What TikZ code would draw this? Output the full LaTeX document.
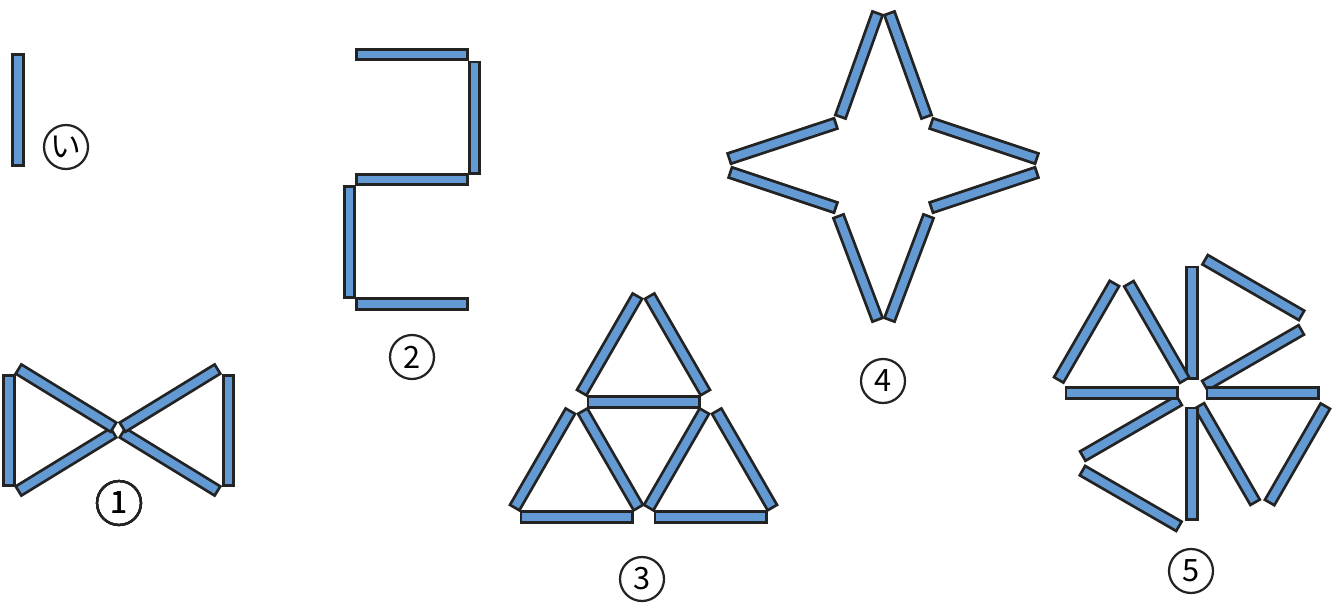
\documentclass[tikz,border=0pt]{standalone}
\usepackage{fontspec}
\newfontfamily\jpfont{Noto Sans CJK JP}
\usetikzlibrary{calc}
\definecolor{cStick}{RGB}{99,154,212}
\definecolor{cEdge}{RGB}{35,35,35}
\tikzset{
	stickedge/.style={line width=0.27cm, draw=cEdge},
	stickfill/.style={line width=0.158cm, draw=cStick, shorten <=0.056cm, shorten >=0.056cm},
	tag/.style={circle, draw=cEdge, line width=0.045cm, minimum size=0.88cm, inner sep=0pt, font=\jpfont\fontsize{17.5}{17.5}\selectfont},
}
% one match stick: outline first, then the blue core
\newcommand{\stick}[2]{\draw[stickedge] #1 -- #2; \draw[stickfill] #1 -- #2;}

\begin{document}
\begin{tikzpicture}[x=0.02cm, y=-0.02cm]
	\useasboundingbox (0,0) rectangle (1338,602);
	% single stick
	\stick{(18,53)}{(18,167)}
	\node[tag] (lblI) at (66,147) {い};
	% (1) bow tie
	\coordinate (C1) at (118,430);
	\stick{(9,374)}{(9,487)}
	\stick{(228.5,374)}{(228.5,487)}
	\foreach \a in {31.5,148.5,211.5,328.5}
		\stick{($(C1)+(\a:4)$)}{++(\a:114)}
	\node[tag] (lbl1) at (119,503) {1};
	% (2) digit two
	\stick{(474.5,60.5)}{(474.5,174.5)}
	\stick{(349.5,185)}{(349.5,299)}
	\stick{(355,54.5)}{(469,54.5)}
	\stick{(355,179.5)}{(469,179.5)}
	\stick{(355,304)}{(469,304)}
	\node[tag] (lbl2) at (412,357) {2};
	% (3) three triangles
	\stick{(638,295)}{++(120:114)}
	\stick{(649,295)}{++(60:114)}
	\stick{(586.5,402)}{(700.5,402)}
	\stick{(571,410)}{++(120:114)}
	\stick{(582,410)}{++(60:114)}
	\stick{(519.5,517)}{(633.5,517)}
	\stick{(705,410)}{++(120:114)}
	\stick{(716,410)}{++(60:114)}
	\stick{(653.5,517)}{(767.5,517)}
	\node[tag] (lbl3) at (642,579) {3};
	% (4) star
	\stick{(878,12)}{(840,118)}
	\stick{(889,12)}{(927,118)}
	\stick{(728,159)}{(837,123)}
	\stick{(729,172)}{(837,208)}
	\stick{(930,123)}{(1038,159)}
	\stick{(930,208)}{(1038,172)}
	\stick{(838,215)}{(878,321)}
	\stick{(929,215)}{(889,321)}
	\node[tag] (lbl4) at (883,381) {4};
	% (5) pinwheel
	\coordinate (C5) at (1192,393);
	\foreach \a in {0,90,180,270} {
		\stick{($(C5)+(\a-90:13.5)$)}{++(\a-90:114)}
		\stick{($(C5)+(\a-30:13.5)$)}{++(\a-30:114)}
		\stick{($(C5)+(\a-84.9:134.5)$)}{++(\a+30:114)}
	}
	\node[tag] (lbl5) at (1191,571) {5};
\end{tikzpicture}
\end{document}
